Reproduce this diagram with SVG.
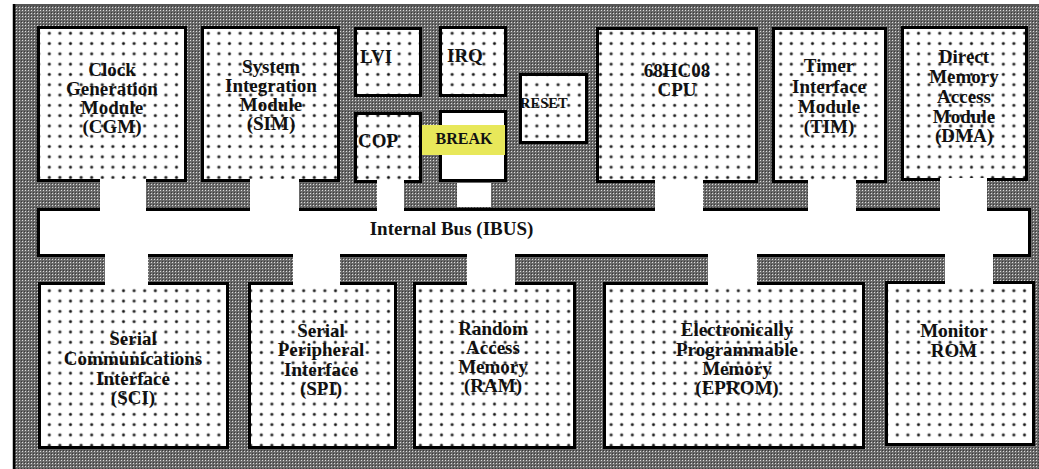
<svg xmlns="http://www.w3.org/2000/svg" width="1039" height="469" viewBox="0 0 1039 469">
  <defs>
    <pattern id="checker" patternUnits="userSpaceOnUse" x="0" y="0" width="3" height="3">
      <rect width="3" height="3" fill="#6a6a6a"/>
      <rect x="1" y="1" width="1" height="1" fill="#dcdcdc"/>
      <rect x="0" y="0" width="1" height="1" fill="#3a3a3a"/>
    </pattern>
    <pattern id="dots" patternUnits="userSpaceOnUse" x="1.6" y="-2.8" width="10.6" height="10.3">
      <rect width="10.6" height="10.3" fill="#fff"/>
      <circle cx="5.3" cy="5.15" r="1.9" fill="#aaa"/>
      <circle cx="5.3" cy="5.15" r="1.2" fill="#111"/>
    </pattern>
  </defs>
  <style>
    .box { fill: url(#dots); stroke: #000; stroke-width: 3; }
    .plain { fill: #fff; stroke: #000; stroke-width: 3; }
    .conn { fill: #fff; stroke: none; }
    text { font-family: "Liberation Serif", "Times New Roman", serif; font-weight: bold; font-size: 19px; fill: #111; }
    .c { text-anchor: middle; }
  </style>

  <rect x="0" y="0" width="1039" height="469" fill="#fff"/>
  <g id="frame">
    <rect x="15" y="6" width="1024" height="463" fill="url(#checker)"/>
    <line x1="14" y1="5" x2="1039" y2="5" stroke="#555" stroke-width="2"/>
    <line x1="14" y1="4" x2="14" y2="469" stroke="#000" stroke-width="2.5"/>
  </g>

  <g id="bus">
    <rect class="plain" x="38.5" y="209.5" width="991" height="46"/>
    <text class="c" x="451.5" y="235">Internal Bus (IBUS)</text>
  </g>

  <g id="cgm">
    <rect class="box" x="38.5" y="27.5" width="147" height="153"/>
    <text class="c" x="112" y="76">Clock</text>
    <text class="c" x="112" y="95">Generation</text>
    <text class="c" x="112" y="114">Module</text>
    <text class="c" x="112" y="133">(CGM)</text>
  </g>
  <g id="sim">
    <rect class="box" x="202.5" y="27.5" width="136" height="153"/>
    <text class="c" x="271" y="73">System</text>
    <text class="c" x="271" y="92">Integration</text>
    <text class="c" x="271" y="111">Module</text>
    <text class="c" x="271" y="130">(SIM)</text>
  </g>
  <g id="lvi">
    <rect class="box" x="355.5" y="28.5" width="65" height="67"/>
    <text x="360" y="63">LVI</text>
  </g>
  <g id="irq">
    <rect class="box" x="440.5" y="27.5" width="65" height="68"/>
    <text x="447" y="62">IRQ</text>
  </g>
  <g id="reset">
    <rect class="box" x="520.5" y="74.5" width="66" height="68"/>
    <text x="520" y="108" style="font-size:14.5px">RESET</text>
  </g>
  <g id="cop">
    <rect class="box" x="355.5" y="113.5" width="65" height="68"/>
    <text x="358" y="147">COP</text>
  </g>
  <g id="break">
    <rect class="plain" x="440.5" y="111.5" width="65" height="69"/>
    <rect x="422" y="125" width="83" height="30" fill="#e8e85a"/>
    <text class="c" x="464" y="144" style="font-size:16px">BREAK</text>
  </g>
  <g id="cpu">
    <rect class="box" x="597.5" y="28.5" width="159" height="153"/>
    <text class="c" x="677" y="77">68HC08</text>
    <text class="c" x="677" y="96">CPU</text>
  </g>
  <g id="tim">
    <rect class="box" x="773.5" y="28.5" width="112" height="153"/>
    <text class="c" x="829" y="72">Timer</text>
    <text class="c" x="829" y="92.5">Interface</text>
    <text class="c" x="829" y="113">Module</text>
    <text class="c" x="829" y="133">(TIM)</text>
  </g>
  <g id="dma">
    <rect class="box" x="902.5" y="27.5" width="124" height="152"/>
    <text class="c" x="964" y="63">Direct</text>
    <text class="c" x="964" y="83">Memory</text>
    <text class="c" x="964" y="103">Access</text>
    <text class="c" x="964" y="123">Module</text>
    <text class="c" x="964" y="142">(DMA)</text>
  </g>

  <g id="sci">
    <rect class="box" x="39.5" y="283.5" width="188" height="164"/>
    <text class="c" x="133" y="345">Serial</text>
    <text class="c" x="133" y="365">Communications</text>
    <text class="c" x="133" y="385">Interface</text>
    <text class="c" x="133" y="404">(SCI)</text>
  </g>
  <g id="spi">
    <rect class="box" x="249.5" y="283.5" width="146" height="164"/>
    <text class="c" x="321" y="337">Serial</text>
    <text class="c" x="321" y="356">Peripheral</text>
    <text class="c" x="321" y="376">Interface</text>
    <text class="c" x="321" y="395">(SPI)</text>
  </g>
  <g id="ram">
    <rect class="box" x="414.5" y="283.5" width="160" height="164"/>
    <text class="c" x="493" y="335">Random</text>
    <text class="c" x="493" y="354">Access</text>
    <text class="c" x="493" y="373">Memory</text>
    <text class="c" x="493" y="392">(RAM)</text>
  </g>
  <g id="eprom">
    <rect class="box" x="604.5" y="283.5" width="259" height="164"/>
    <text class="c" x="737" y="336">Electronically</text>
    <text class="c" x="737" y="356">Programmable</text>
    <text class="c" x="737" y="375">Memory</text>
    <text class="c" x="737" y="394">(EPROM)</text>
  </g>
  <g id="monitor">
    <rect class="box" x="886.5" y="282.5" width="147" height="162"/>
    <text class="c" x="954" y="337">Monitor</text>
    <text class="c" x="954" y="357">ROM</text>
  </g>

  <g id="connectors">
    <rect class="conn" x="100" y="179" width="46" height="32"/>
    <rect class="conn" x="250" y="179" width="49" height="32"/>
    <rect class="conn" x="377" y="180" width="27" height="31"/>
    <rect class="conn" x="457" y="183" width="34" height="24"/>
    <rect class="conn" x="655" y="180" width="48" height="31"/>
    <rect class="conn" x="808" y="180" width="48" height="31"/>
    <rect class="conn" x="940" y="178" width="47" height="33"/>
    <rect class="conn" x="105" y="254" width="43" height="31"/>
    <rect class="conn" x="293" y="254" width="47" height="31"/>
    <rect class="conn" x="467" y="254" width="48" height="31"/>
    <rect class="conn" x="708" y="254" width="49" height="31"/>
    <rect class="conn" x="945" y="254" width="48" height="31"/>
  </g>
</svg>
